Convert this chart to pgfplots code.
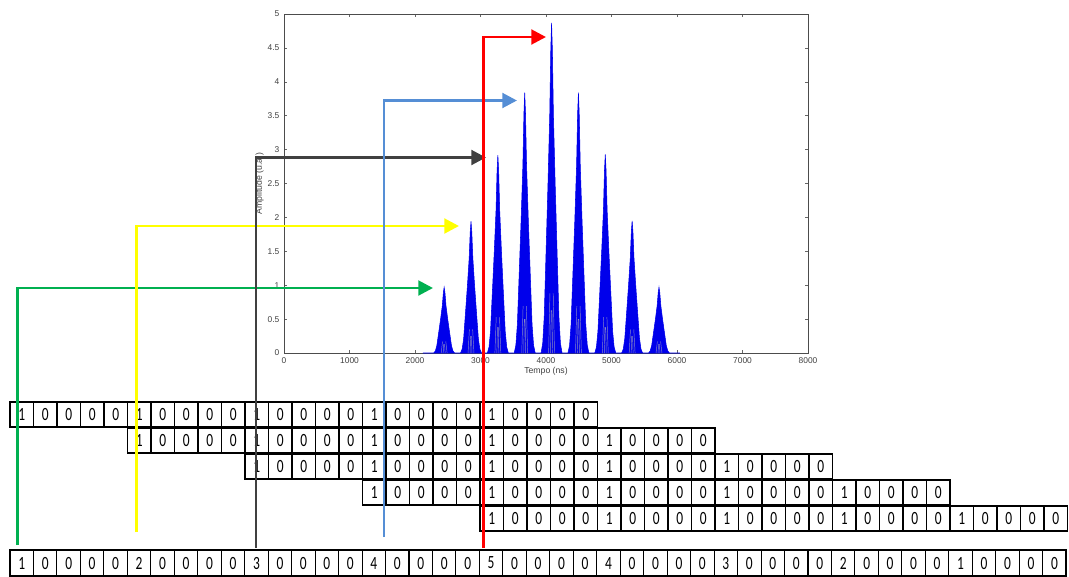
\documentclass[border=0pt]{standalone}
\usepackage{pgfplots}
\pgfplotsset{compat=1.18}
\usepackage{graphicx}
\usepackage{fontspec}
\setmainfont{Liberation Sans}
\newfontfamily\cellfont{Carlito}
\usetikzlibrary{arrows.meta}
\definecolor{sigblue}{RGB}{0,0,235}
\definecolor{agreen}{RGB}{0,176,80}
\definecolor{ayellow}{RGB}{255,255,0}
\definecolor{agray}{RGB}{64,64,64}
\definecolor{ablue}{RGB}{85,142,213}
\definecolor{ared}{RGB}{255,0,0}
\newcommand\digit[1]{\scalebox{0.72}[1]{\cellfont\fontsize{14}{14}\selectfont #1}}
\begin{document}
\begin{tikzpicture}
\useasboundingbox (0,0) rectangle (801.75pt,-432pt);
\begin{axis}[
  at={(213pt,-264.75pt)}, anchor=south west,
  scale only axis, width=393pt, height=254.25pt,
  xmin=0, xmax=8000, ymin=0, ymax=5,
  xtick={0,1000,2000,3000,4000,5000,6000,7000,8000},
  ytick={0,0.5,1,1.5,2,2.5,3,3.5,4,4.5,5},
  scaled x ticks=false,
  /pgf/number format/1000 sep={},
  /pgf/number format/assume math mode=true,
  tick align=inside,
  major tick length=2.5pt,
  tick style={black!60, line width=0.4pt},
  axis line style={black!70, line width=0.6pt},
  tick label style={font=\fontsize{6.3}{7}\selectfont, text=black!75},
  xlabel={Tempo (ns)}, ylabel={Amplitude (u.a.)},
  label style={font=\fontsize{6.5}{7}\selectfont, text=black!75},
  xlabel style={yshift=4pt},
  ylabel style={yshift=-4pt},
]
\addplot[draw=sigblue, fill=sigblue, line width=0.4pt] coordinates {
(2120,0)
(2285,0) (2310,0.029) (2333,0.107) (2363,0.310) (2390,0.495) (2417,0.698) (2433,0.892) (2445,0.97) (2457,0.892) (2473,0.698) (2500,0.495) (2527,0.310) (2557,0.107) (2580,0.029) (2605,0)
(2695,0) (2720,0.058) (2743,0.213) (2773,0.621) (2800,0.989) (2827,1.397) (2843,1.785) (2855,1.94) (2867,1.785) (2883,1.397) (2910,0.989) (2937,0.621) (2967,0.213) (2990,0.058) (3015,0)
(3105,0) (3130,0.088) (3153,0.321) (3183,0.934) (3210,1.489) (3237,2.102) (3253,2.686) (3265,2.92) (3277,2.686) (3293,2.102) (3320,1.489) (3347,0.934) (3377,0.321) (3400,0.088) (3425,0)
(3515,0) (3540,0.115) (3563,0.422) (3593,1.229) (3620,1.958) (3647,2.765) (3663,3.533) (3675,3.84) (3687,3.533) (3703,2.765) (3730,1.958) (3757,1.229) (3787,0.422) (3810,0.115) (3835,0)
(3925,0) (3950,0.146) (3973,0.536) (4003,1.558) (4030,2.484) (4057,3.506) (4073,4.480) (4085,4.87) (4097,4.480) (4113,3.506) (4140,2.484) (4167,1.558) (4197,0.536) (4220,0.146) (4245,0)
(4335,0) (4360,0.115) (4383,0.422) (4413,1.229) (4440,1.958) (4467,2.765) (4483,3.533) (4495,3.84) (4507,3.533) (4523,2.765) (4550,1.958) (4577,1.229) (4607,0.422) (4630,0.115) (4655,0)
(4745,0) (4770,0.088) (4793,0.322) (4823,0.938) (4850,1.494) (4877,2.110) (4893,2.696) (4905,2.93) (4917,2.696) (4933,2.110) (4960,1.494) (4987,0.938) (5017,0.322) (5040,0.088) (5065,0)
(5155,0) (5180,0.059) (5203,0.215) (5233,0.624) (5260,0.995) (5287,1.404) (5303,1.794) (5315,1.95) (5327,1.794) (5343,1.404) (5370,0.995) (5397,0.624) (5427,0.215) (5450,0.059) (5475,0)
(5565,0) (5590,0.029) (5613,0.107) (5643,0.310) (5670,0.495) (5697,0.698) (5713,0.892) (5725,0.97) (5737,0.892) (5753,0.698) (5780,0.495) (5807,0.310) (5837,0.107) (5860,0.029) (5885,0)
(6045,0)
} \closedcycle;
\addplot[draw=white!55!sigblue!60!gray, line width=0.35pt, unbounded coords=jump] coordinates {
(2400,0) (2420,0.17) (2445,nan) (2430,0) (2439,0.13) (2445,nan) (2460,0) (2451,0.13) (2445,nan) (2490,0) (2470,0.17) (2445,nan)
(2810,0) (2830,0.35) (2855,nan) (2840,0) (2849,0.25) (2855,nan) (2870,0) (2861,0.25) (2855,nan) (2900,0) (2880,0.35) (2855,nan)
(3220,0) (3240,0.53) (3265,nan) (3250,0) (3259,0.38) (3265,nan) (3280,0) (3271,0.38) (3265,nan) (3310,0) (3290,0.53) (3265,nan)
(3630,0) (3650,0.69) (3675,nan) (3660,0) (3669,0.50) (3675,nan) (3690,0) (3681,0.50) (3675,nan) (3720,0) (3700,0.69) (3675,nan)
(4040,0) (4060,0.88) (4085,nan) (4070,0) (4079,0.63) (4085,nan) (4100,0) (4091,0.63) (4085,nan) (4130,0) (4110,0.88) (4085,nan)
(4450,0) (4470,0.69) (4495,nan) (4480,0) (4489,0.50) (4495,nan) (4510,0) (4501,0.50) (4495,nan) (4540,0) (4520,0.69) (4495,nan)
(4860,0) (4880,0.53) (4905,nan) (4890,0) (4899,0.38) (4905,nan) (4920,0) (4911,0.38) (4905,nan) (4950,0) (4930,0.53) (4905,nan)
(5270,0) (5290,0.35) (5315,nan) (5300,0) (5309,0.25) (5315,nan) (5330,0) (5321,0.25) (5315,nan) (5360,0) (5340,0.35) (5315,nan)
(5680,0) (5700,0.17) (5725,nan) (5710,0) (5719,0.13) (5725,nan) (5740,0) (5731,0.13) (5725,nan) (5770,0) (5750,0.17)
};
\end{axis}
\begin{scope}[x=0.75pt, y=-0.75pt]
% shifted bit rows
\foreach \xs/\yt in {10/402, 127.5/428, 245/454, 362.5/480, 480/506} {
  \foreach \i in {0,...,24} {
    \pgfmathsetmacro\xa{\xs+23.5*\i}
    \pgfmathtruncatemacro\m{mod(\i,5)}
    \draw[line width=0.8pt] (\xa,\yt) rectangle ++(23.5,25);
    \node[inner sep=0pt] at (\xa+11.75,\yt+12.5) {\digit{\ifnum\m=0 1\else 0\fi}};
  }
  \draw[line width=1.4pt] (\xs,\yt) rectangle ++(587.5,25);
}
% bottom sum row
\foreach \d [count=\i from 0] in {1,0,0,0,0,2,0,0,0,0,3,0,0,0,0,4,0,0,0,0,5,0,0,0,0,4,0,0,0,0,3,0,0,0,0,2,0,0,0,0,1,0,0,0,0} {
  \pgfmathsetmacro\xa{10+23.47*\i}
  \draw[line width=0.8pt] (\xa,550) rectangle ++(23.47,26);
  \node[inner sep=0pt] at (\xa+11.735,563) {\digit{\d}};
}
\draw[line width=1.4pt] (10,550) rectangle (1066,576);
% arrows
\draw[agreen, line width=2.2pt, line join=miter, -{Triangle[length=11pt,width=11pt]}] (17.5,545) -- (17.5,288) -- (433,288);
\draw[ayellow, line width=2.2pt, line join=miter, -{Triangle[length=11pt,width=11pt]}] (136.5,532) -- (136.5,226) -- (459,226);
\draw[agray, line width=2.2pt, line join=miter, -{Triangle[length=11pt,width=11pt]}] (256,548) -- (256,157.5) -- (486,157.5);
\draw[ablue, line width=2.2pt, line join=miter, -{Triangle[length=11pt,width=11pt]}] (384,537) -- (384,100.5) -- (517,100.5);
\draw[ared, line width=2.2pt, line join=miter, -{Triangle[length=11pt,width=11pt]}] (483.5,548) -- (483.5,37) -- (546,37);
\end{scope}
\end{tikzpicture}
\end{document}
